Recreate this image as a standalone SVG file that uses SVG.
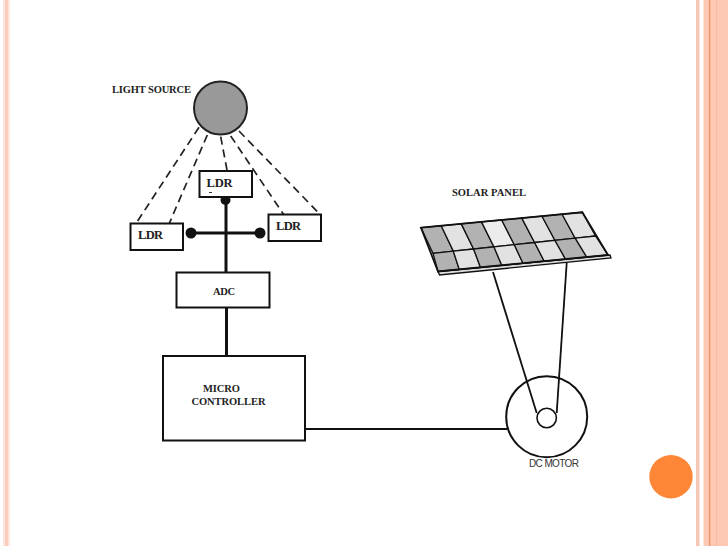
<svg xmlns="http://www.w3.org/2000/svg" width="728" height="546" viewBox="0 0 728 546">
<style>
.box{fill:#fff;stroke:#111;stroke-width:2}
.wire{fill:none;stroke:#111;stroke-width:1.800}
.thick{fill:none;stroke:#111;stroke-width:3}
.dash{fill:none;stroke:#222;stroke-width:1.700;stroke-dasharray:8 5}
.t{font-family:"Liberation Serif",serif;font-weight:bold;font-size:10.5px;fill:#222}
.ldr{font-family:"Liberation Serif",serif;font-size:12.500px;font-weight:bold;fill:#222}
.d{fill:#b2b2b2;stroke:#111;stroke-width:1.300}
.l{fill:#e2e2e2;stroke:#111;stroke-width:1.300}
</style>
<rect width="728" height="546" fill="#fff"/>
<g id="border">
<rect x="3" y="0" width="7" height="546" fill="#fde6de"/>
<rect x="5" y="0" width="3" height="546" fill="#fbcdbc"/>
<rect x="696" y="0" width="3.500" height="546" fill="#f6c6b5"/>
<rect x="703.500" y="0" width="24.500" height="546" fill="#fdc8b4"/>
<rect x="709" y="0" width="1.300" height="546" fill="#ea9468"/>
<rect x="716" y="0" width="1" height="546" fill="#f7b9a2"/>
</g>
<g id="connectors">
<path class="dash" d="M199 127.300L135 225"/>
<path class="dash" d="M207.300 135L169.300 223.300"/>
<path class="dash" d="M220.700 136.700L227 170"/>
<path class="dash" d="M230.700 136L284 215"/>
<path class="dash" d="M239 131L320 214.300"/>
<path class="thick" d="M226 197V272"/>
<path class="thick" d="M191 233H260"/>
<path class="thick" d="M226.500 308V356"/>
<path class="wire" d="M305 429H507"/>
<path class="wire" d="M493 272L536.700 413"/>
<path class="wire" d="M566.700 263L556.700 413"/>
<circle cx="191" cy="233" r="5.500" fill="#111"/>
<circle cx="260" cy="233" r="5.500" fill="#111"/>
<circle cx="225.500" cy="200" r="5" fill="#111"/>
</g>
<g id="light-source">
<circle cx="220.500" cy="108" r="26.500" fill="#999" stroke="#222" stroke-width="2"/>
<text class="t" x="112" y="93" textLength="79">LIGHT SOURCE</text>
</g>
<g id="ldr-top">
<rect class="box" x="199.500" y="171" width="52.500" height="26"/>
<text class="ldr" x="206.500" y="187" textLength="26">LDR</text>
<path d="M209 192.500H212" stroke="#333" stroke-width="1"/>
</g>
<g id="ldr-left">
<rect class="box" x="130.500" y="223.500" width="52.500" height="26.500"/>
<text class="ldr" x="138" y="238.500" textLength="25">LDR</text>
</g>
<g id="ldr-right">
<rect class="box" x="268.500" y="214.500" width="52.500" height="26.500"/>
<text class="ldr" x="276" y="230" textLength="25">LDR</text>
</g>
<g id="adc">
<rect class="box" x="176.500" y="272.500" width="93" height="35"/>
<text class="t" x="213" y="295" textLength="22">ADC</text>
</g>
<g id="micro-controller">
<rect class="box" x="163" y="356" width="142" height="84.500"/>
<text class="t" x="203" y="391.500" textLength="37">MICRO</text>
<text class="t" x="191.500" y="404.500" textLength="74">CONTROLLER</text>
</g>
<g id="solar-panel">
<text class="t" x="452" y="196" textLength="74">SOLAR PANEL</text>
<path d="M438 271.500L610 255L611 258L439.500 275Z" fill="#ddd" stroke="#111" stroke-width="1.300"/>
<path d="M421 227.700L433 253.300L453.300 251.100L441.200 225.800Z" class="d"/>
<path d="M441.200 225.800L453.300 251.100L473.600 249L461.300 223.900Z" class="l"/>
<path d="M461.300 223.900L473.600 249L493.900 246.800L481.500 221.900Z" class="d"/>
<path d="M481.500 221.900L493.900 246.800L514.300 244.700L501.700 220Z" class="l" style="fill:#ececec"/>
<path d="M501.700 220L514.300 244.700L534.600 242.500L521.800 218.100Z" class="d"/>
<path d="M521.800 218.100L534.600 242.500L554.900 240.300L542 216.200Z" class="l"/>
<path d="M542 216.200L554.900 240.300L575.200 238.200L562.100 214.200Z" class="d"/>
<path d="M562.100 214.200L575.200 238.200L595.500 236L582.300 212.300Z" class="l"/>
<path d="M433 253.300L438 271.500L459.250 269.400L453.300 251.100Z" class="d"/>
<path d="M453.300 251.100L459.250 269.400L480.500 267.400L473.600 249Z" class="l"/>
<path d="M473.600 249L480.500 267.400L501.750 265.300L493.900 246.800Z" class="d"/>
<path d="M493.900 246.800L501.750 265.300L523 263.300L514.300 244.700Z" class="l"/>
<path d="M514.300 244.700L523 263.300L544.250 261.200L534.600 242.500Z" class="d"/>
<path d="M534.600 242.500L544.250 261.200L565.500 259.100L554.900 240.300Z" class="l"/>
<path d="M554.900 240.300L565.500 259.100L586.750 257.100L575.200 238.200Z" class="d"/>
<path d="M575.200 238.200L586.750 257.100L608 255L595.500 236Z" class="l"/>
<path d="M421 227.700L582.300 212.300L608 255L438 271.500Z" fill="none" stroke="#111" stroke-width="1.800"/>
</g>
<g id="dc-motor">
<circle cx="546.700" cy="416.700" r="40.500" fill="none" stroke="#111" stroke-width="2"/>
<circle cx="546.700" cy="418" r="9.700" fill="#fff" stroke="#111" stroke-width="1.600"/>
<text x="529" y="467" textLength="50" style="font-family:'Liberation Sans',sans-serif;font-size:10px;fill:#333">DC MOTOR</text>
</g>
<g id="page-dot">
<circle cx="671" cy="476.700" r="21.700" fill="#fd8637"/>
</g>
</svg>
